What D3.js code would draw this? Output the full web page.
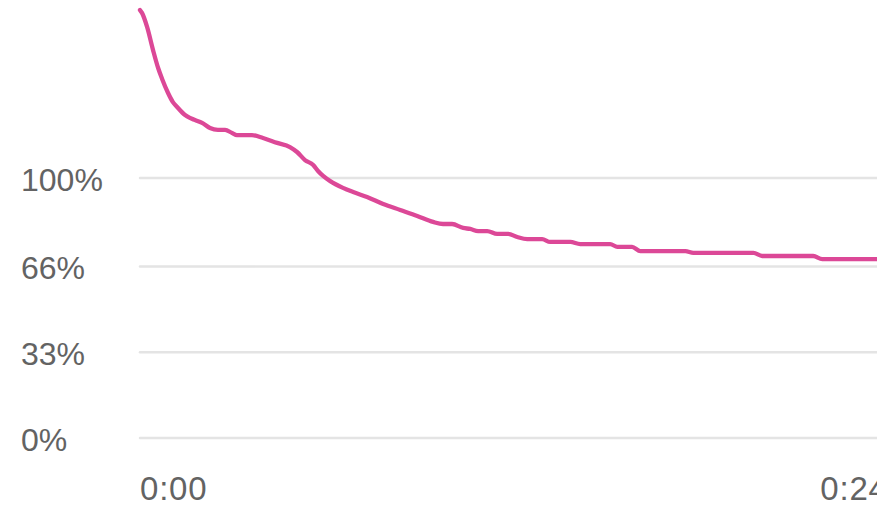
<!DOCTYPE html>
<html>
<head>
<meta charset="utf-8">
<script src="https://cdn.jsdelivr.net/npm/d3@7"></script>
<style>
  html, body { margin: 0; padding: 0; background: #ffffff; overflow: hidden; }
  svg { display: block; }
  text { font-family: "Liberation Sans", Arial, Helvetica, sans-serif; fill: #636363; }
</style>
</head>
<body>
<svg id="chart" width="877" height="507"></svg>
<script>
// Time (minutes) and percent values
const times = [0, 0.07, 0.25, 0.46, 0.64, 0.78, 0.99, 1.16, 1.31, 1.59, 1.76, 1.94, 2.19, 2.47, 2.75, 3.00,
  3.25, 3.42, 3.95, 4.34, 4.84, 5.29, 5.54, 5.82, 6.11, 6.28, 6.46, 6.71, 7.16, 7.52, 8.01, 8.58, 9.18,
  9.78, 10.34, 10.69, 11.01, 11.40, 11.65, 11.93, 12.25, 12.60, 12.99, 13.31, 13.66, 14.19, 14.47, 15.18,
  15.53, 16.59, 16.84, 17.36, 17.65, 19.24, 19.52, 21.64, 21.95, 23.75, 24.07, 26.01];
const values = [164.6, 163.5, 158.1, 149.2, 142.3, 138.1, 132.7, 129.2, 127.3, 124.2, 123.1, 122.3, 121.2,
  119.2, 118.5, 118.5, 117.3, 116.5, 116.5, 115.4, 113.5, 111.9, 110.0, 106.9, 105.0, 102.7, 100.8, 98.8,
  96.2, 94.6, 92.7, 90.0, 87.7, 85.4, 83.1, 82.3, 82.3, 80.8, 80.4, 79.6, 79.6, 78.5, 78.5, 77.3, 76.5,
  76.5, 75.4, 75.4, 74.6, 74.6, 73.5, 73.5, 71.9, 71.9, 71.2, 71.2, 70.0, 70.0, 68.8, 68.8];
const yTicks = [0, 33, 66, 100];
const yTickLabels = ["0%", "33%", "66%", "100%"];
const xTicks = [0, 24];
const xTickLabels = ["0:00", "0:24"];

const svg = d3.select("#chart");
const W = 877;
const x = d3.scaleLinear().domain([0, 26]).range([140, 877]);
const y = d3.scaleLinear().domain([0, 100]).range([438, 178]);

// gridlines
svg.append("g").selectAll("line").data(yTicks).join("line")
  .attr("x1", 140).attr("x2", W)
  .attr("y1", d => y(d)).attr("y2", d => y(d))
  .attr("stroke", "#e4e4e4").attr("stroke-width", 2.5).attr("stroke-linecap", "round");

// y labels
svg.append("g").selectAll("text").data(yTicks).join("text")
  .attr("x", 21).attr("y", d => y(d) + 13)
  .attr("font-size", 32)
  .text((d, i) => yTickLabels[i]);

// x labels
svg.append("g").selectAll("text").data(xTicks).join("text")
  .attr("x", d => x(d)).attr("y", 500)
  .attr("font-size", 33)
  .attr("letter-spacing", 0.8)
  .text((d, i) => xTickLabels[i]);

// line
const data = times.map((t, i) => [t, values[i]]);
const line = d3.line().x(d => x(d[0])).y(d => y(d[1])).curve(d3.curveMonotoneX);
svg.append("path").datum(data)
  .attr("d", line)
  .attr("fill", "none")
  .attr("stroke", "#dc4897")
  .attr("stroke-width", 4.3)
  .attr("stroke-linejoin", "round")
  .attr("stroke-linecap", "round");
</script>
</body>
</html>
